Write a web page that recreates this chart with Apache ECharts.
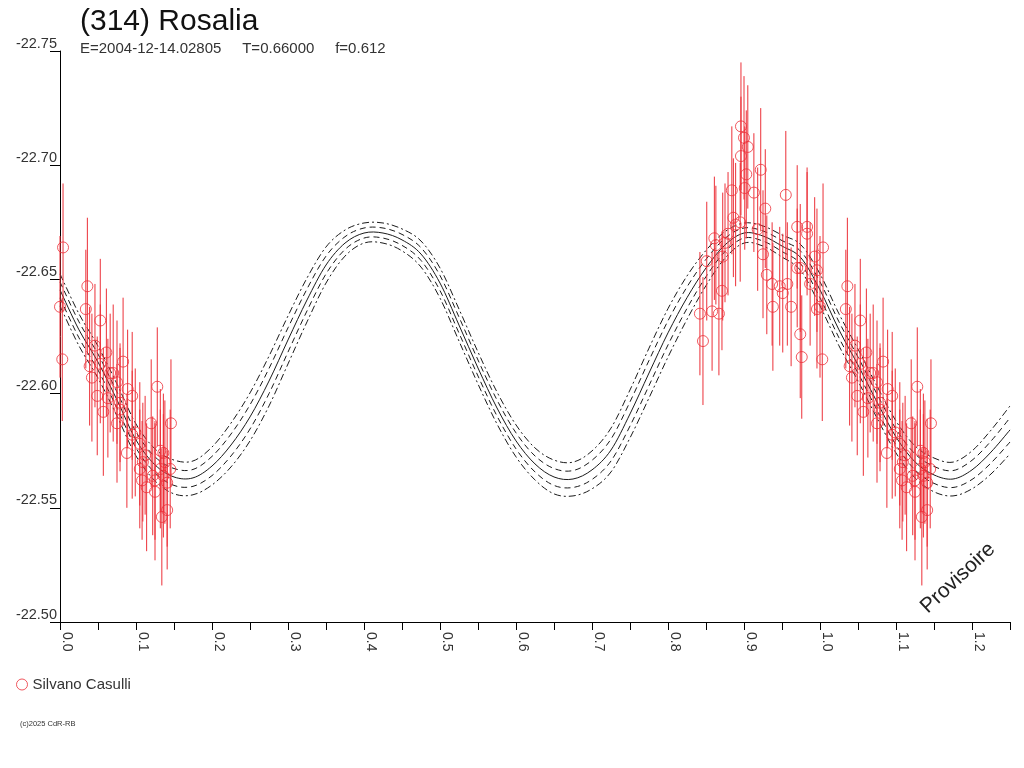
<!DOCTYPE html>
<html>
<head>
<meta charset="utf-8">
<title>(314) Rosalia</title>
<script src="https://cdn.jsdelivr.net/npm/echarts@6/dist/echarts.min.js"></script>
<style>
  html, body { margin: 0; padding: 0; background: #fff; }
  #chart { width: 1024px; height: 768px; }
</style>
</head>
<body>
<div id="chart"></div>
<script>
"use strict";

// fitted lightcurve, sampled every 0.025 in phase
var curvePhase = [
  0.000, 0.025, 0.050, 0.075, 0.100, 0.125, 0.150, 0.175, 0.200, 0.225,
  0.250, 0.275, 0.300, 0.325, 0.350, 0.375, 0.400, 0.425, 0.450, 0.475,
  0.500, 0.525, 0.550, 0.575, 0.600, 0.625, 0.650, 0.675, 0.700, 0.725,
  0.750, 0.775, 0.800, 0.825, 0.850, 0.875, 0.900, 0.925, 0.950, 0.975,
  1.000, 1.025, 1.050, 1.075, 1.100, 1.125, 1.150, 1.175, 1.200, 1.225,
  1.250
];
var curveMag = [
  -22.6454, -22.6279, -22.6138, -22.5972, -22.5797, -22.5688, -22.5635, -22.5631, -22.5683, -22.5775,
  -22.5898, -22.6055, -22.6235, -22.6410, -22.6563, -22.6659, -22.6703, -22.6703, -22.6673, -22.6611,
  -22.6484, -22.6300, -22.6112, -22.5937, -22.5793, -22.5692, -22.5635, -22.5626, -22.5666, -22.5753,
  -22.5911, -22.6090, -22.6266, -22.6420, -22.6550, -22.6651, -22.6703, -22.6690, -22.6646, -22.6594,
  -22.6454, -22.6279, -22.6125, -22.5963, -22.5810, -22.5701, -22.5644, -22.5626, -22.5666, -22.5744,
  -22.5841
];
// half widths of the dashed (inner) and dash-dot (outer) curves
var bandInner = [
  0.0035, 0.0035, 0.0035, 0.0035, 0.0035, 0.0035, 0.0037, 0.0037, 0.0042, 0.0048,
  0.0053, 0.0055, 0.0053, 0.0048, 0.0039, 0.0028, 0.0022, 0.0022, 0.0024, 0.0028,
  0.0033, 0.0035, 0.0035, 0.0035, 0.0035, 0.0035, 0.0037, 0.0037, 0.0042, 0.0048,
  0.0053, 0.0055, 0.0053, 0.0047, 0.0038, 0.0029, 0.0022, 0.0022, 0.0024, 0.0028,
  0.0035, 0.0035, 0.0035, 0.0035, 0.0035, 0.0035, 0.0037, 0.0037, 0.0042, 0.0048,
  0.0053
];
var bandOuter = [
  0.0070, 0.0070, 0.0070, 0.0070, 0.0070, 0.0070, 0.0074, 0.0074, 0.0083, 0.0096,
  0.0105, 0.0109, 0.0105, 0.0096, 0.0079, 0.0057, 0.0044, 0.0044, 0.0048, 0.0057,
  0.0066, 0.0070, 0.0070, 0.0070, 0.0070, 0.0070, 0.0074, 0.0074, 0.0083, 0.0096,
  0.0105, 0.0109, 0.0106, 0.0095, 0.0077, 0.0058, 0.0044, 0.0044, 0.0048, 0.0057,
  0.0070, 0.0070, 0.0070, 0.0070, 0.0070, 0.0070, 0.0074, 0.0074, 0.0083, 0.0096,
  0.0105
];

// observations (Silvano Casulli): phase, reduced magnitude, error
var obsPhase = [
  0.004, 0.000, 0.003, 0.036, 0.034, 0.053, 0.039, 0.042, 0.049, 0.057,
  0.061, 0.066, 0.070, 0.075, 0.083, 0.089, 0.095, 0.075, 0.088, 0.099,
  0.105, 0.109, 0.108, 0.114, 0.122, 0.125, 0.128, 0.120, 0.136, 0.138,
  0.145, 0.141, 0.134, 0.141, 0.146, 0.053, 0.079, 0.095, 0.112, 0.079,
  0.105, 0.132, 0.132, 0.136, 0.125, 0.046, 0.063,
  0.842, 0.846, 0.851, 0.858, 0.861, 0.863, 0.867, 0.871, 0.872, 0.875,
  0.879, 0.884, 0.886, 0.889, 0.895, 0.896, 0.900, 0.905, 0.896, 0.903,
  0.922, 0.901, 0.913, 0.918, 0.928, 0.925, 0.930, 0.937, 0.947, 0.955,
  0.957, 0.951, 0.938, 0.962, 0.970, 0.983, 0.983, 0.970, 0.974, 0.987,
  0.993, 0.996, 0.996, 0.974, 0.976
];
var obsMag = [
  -22.664, -22.638, -22.615, -22.647, -22.637, -22.632, -22.612, -22.607, -22.599, -22.592,
  -22.618, -22.609, -22.609, -22.605, -22.614, -22.602, -22.599, -22.587, -22.574, -22.583,
  -22.578, -22.570, -22.562, -22.559, -22.564, -22.557, -22.603, -22.587, -22.574, -22.570,
  -22.567, -22.561, -22.546, -22.549, -22.587, -22.613, -22.596, -22.582, -22.573, -22.593,
  -22.567, -22.575, -22.567, -22.564, -22.562, -22.621, -22.598,
  -22.635, -22.623, -22.658, -22.636, -22.668, -22.665, -22.635, -22.645, -22.660, -22.666,
  -22.670, -22.689, -22.677, -22.674, -22.675, -22.717, -22.712, -22.708, -22.704, -22.696,
  -22.698, -22.690, -22.688, -22.672, -22.681, -22.661, -22.652, -22.648, -22.647, -22.687,
  -22.648, -22.644, -22.638, -22.638, -22.673, -22.673, -22.670, -22.655, -22.655, -22.648,
  -22.660, -22.654, -22.637, -22.626, -22.616
];
var obsErr = [
  0.028, 0.031, 0.027, 0.030, 0.026, 0.027, 0.026, 0.028, 0.026, 0.028,
  0.028, 0.026, 0.030, 0.027, 0.028, 0.026, 0.028, 0.026, 0.024, 0.028,
  0.027, 0.026, 0.026, 0.028, 0.026, 0.030, 0.026, 0.028, 0.026, 0.027,
  0.026, 0.028, 0.030, 0.026, 0.028, 0.026, 0.026, 0.028, 0.026, 0.027,
  0.026, 0.027, 0.026, 0.027, 0.026, 0.027, 0.026,
  0.027, 0.028, 0.026, 0.026, 0.027, 0.026, 0.027, 0.026, 0.028, 0.026,
  0.027, 0.028, 0.026, 0.027, 0.026, 0.028, 0.027, 0.027, 0.026, 0.028,
  0.027, 0.027, 0.026, 0.027, 0.026, 0.028, 0.026, 0.027, 0.026, 0.028,
  0.027, 0.026, 0.028, 0.026, 0.027, 0.026, 0.027, 0.026, 0.028, 0.027,
  0.026, 0.027, 0.026, 0.028, 0.027
];

var RED = "#ec3038";
var INK = "#1a1a1a";
var FONT = "Liberation Sans, Arial, sans-serif";
var PHASE_MAX = 1.25;

// every observation is also plotted one cycle later while it fits on the axis
var points = [];
obsPhase.forEach(function (p, i) {
  points.push([p, obsMag[i], obsErr[i]]);
  if (p + 1 <= PHASE_MAX) {
    points.push([p + 1, obsMag[i], obsErr[i]]);
  }
});

function curveLine(offsets, sign) {
  return curvePhase.map(function (p, i) {
    return [p, curveMag[i] + sign * (offsets ? offsets[i] : 0)];
  });
}

// Catmull-Rom spline through the sample points, in screen space
function splinePath(api, pts) {
  var c = pts.map(function (p) {
    return api.coord(p);
  });
  var n = c.length;
  var d = "M" + c[0][0] + " " + c[0][1];
  for (var i = 0; i < n - 1; i++) {
    var p0 = c[Math.max(i - 1, 0)];
    var p1 = c[i];
    var p2 = c[i + 1];
    var p3 = c[Math.min(i + 2, n - 1)];
    d += " C" + (p1[0] + (p2[0] - p0[0]) / 6) + " " + (p1[1] + (p2[1] - p0[1]) / 6) +
      " " + (p2[0] - (p3[0] - p1[0]) / 6) + " " + (p2[1] - (p3[1] - p1[1]) / 6) +
      " " + p2[0] + " " + p2[1];
  }
  return d;
}

function curveSeries(pts, dash) {
  return {
    type: "custom",
    data: pts,
    encode: { x: 0, y: 1 },
    silent: true,
    z: 1,
    renderItem: function (params, api) {
      if (params.dataIndex !== 0) return null;
      return {
        type: "path",
        shape: { pathData: splinePath(api, pts) },
        style: { fill: "none", stroke: INK, lineWidth: 1, lineDash: dash },
      };
    },
  };
}

var chart = echarts.init(document.getElementById("chart"));

chart.setOption({
  animation: false,
  backgroundColor: "#fff",
  title: {
    text: "(314) Rosalia",
    subtext: "E=2004-12-14.02805     T=0.66000     f=0.612",
    left: 75,
    top: 2,
    itemGap: 4,
    textStyle: { fontSize: 30, fontWeight: "normal", color: "#111", fontFamily: FONT },
    subtextStyle: { fontSize: 15, color: "#333", fontFamily: FONT },
  },
  legend: {
    left: 11,
    top: 672,
    itemWidth: 11,
    itemHeight: 11,
    textStyle: { fontSize: 15, color: "#333", fontFamily: FONT },
    data: [
      {
        name: "Silvano Casulli",
        icon: "circle",
        itemStyle: { color: "rgba(0,0,0,0)", borderColor: RED, borderWidth: 1 },
      },
    ],
  },
  grid: { left: 60, right: 14, top: 51, bottom: 146 },
  xAxis: {
    type: "value",
    min: 0,
    max: PHASE_MAX,
    interval: 0.05,
    axisLine: { lineStyle: { color: "#000", width: 1 } },
    axisTick: { length: 8, lineStyle: { color: "#000" } },
    axisLabel: {
      rotate: -90,
      margin: 10,
      verticalAlign: "bottom",
      fontSize: 14,
      color: "#333",
      fontFamily: FONT,
      formatter: function (v) {
        return Math.round(v * 20) % 2 === 0 ? v.toFixed(1) : "";
      },
    },
    splitLine: { show: false },
  },
  yAxis: {
    type: "value",
    min: -22.75,
    max: -22.5,
    interval: 0.05,
    inverse: true,
    axisLine: { show: true, lineStyle: { color: "#000", width: 1 } },
    axisTick: { show: true, length: 10, lineStyle: { color: "#000" } },
    axisLabel: {
      margin: 3,
      verticalAlign: "bottom",
      fontSize: 14.5,
      color: "#333",
      fontFamily: FONT,
      formatter: function (v) {
        return v.toFixed(2);
      },
    },
    splitLine: { show: false },
  },
  graphic: [
    {
      type: "text",
      x: 958,
      y: 578,
      rotation: 0.75,
      style: {
        text: "Provisoire",
        fontSize: 21,
        fill: "#222",
        fontFamily: FONT,
        align: "center",
        verticalAlign: "middle",
      },
    },
    {
      type: "text",
      left: 20,
      top: 720,
      style: { text: "(c)2025 CdR-RB", fontSize: 7.5, fill: "#333", fontFamily: FONT },
    },
  ],
  series: [
    curveSeries(curveLine(bandOuter, -1), [7, 3, 2, 3]),
    curveSeries(curveLine(bandInner, -1), [6, 4]),
    curveSeries(curveLine(null, 0), null),
    curveSeries(curveLine(bandInner, 1), [6, 4]),
    curveSeries(curveLine(bandOuter, 1), [7, 3, 2, 3]),
    {
      name: "errors",
      type: "custom",
      data: points,
      encode: { x: 0, y: 1 },
      silent: true,
      z: 2,
      renderItem: function (params, api) {
        var x = api.value(0);
        var y = api.value(1);
        var e = api.value(2);
        var a = api.coord([x, y - e]);
        var b = api.coord([x, y + e]);
        return {
          type: "line",
          shape: { x1: a[0], y1: a[1], x2: b[0], y2: b[1] },
          style: { stroke: RED, lineWidth: 1 },
        };
      },
    },
    {
      name: "Silvano Casulli",
      type: "scatter",
      data: points,
      symbol: "circle",
      symbolSize: 11,
      z: 3,
      itemStyle: { color: "rgba(0,0,0,0)", borderColor: RED, borderWidth: 1 },
    },
  ],
});
</script>
</body>
</html>
